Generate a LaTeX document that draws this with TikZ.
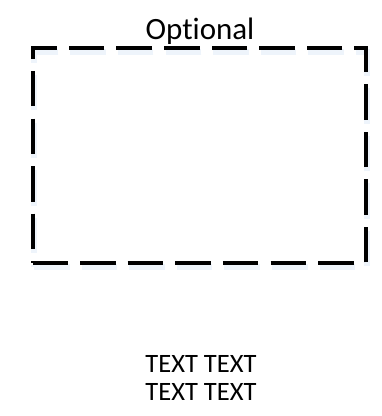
\documentclass[tikz,border=0pt]{standalone}
\usepackage{fontspec}
\setmainfont{Carlito}[Ligatures={NoCommon,NoContextual}]
\definecolor{glow}{RGB}{238,244,251}
\tikzset{
  frameline/.style={line width=4pt, dash pattern=on 35.5pt off 12.1pt},
  frameglow/.style={line width=6pt, dash pattern=on 35.5pt off 12.1pt, draw=glow},
  lbl/.style={anchor=base, inner sep=0pt, text=black}
}
\begin{document}
\begin{tikzpicture}[x=1pt,y=1pt]
\useasboundingbox (0,0) rectangle (382,-416);
\fill[white] (0,0) rectangle (382,-416);
% soft glow below the dashed frame
\draw[frameglow] ([shift={(1.5,-4)}]32.5,-262.5) -- ([shift={(1.5,-4)}]365.5,-262.5) -- ([shift={(1.5,-4)}]365.5,-47.5) -- ([shift={(1.5,-4)}]32.5,-47.5) -- cycle;
\coordinate (bl) at (32.5,-262.5);
\coordinate (br) at (365.5,-262.5);
\coordinate (tr) at (365.5,-47.5);
\coordinate (tl) at (32.5,-47.5);
\draw[frameline] (bl) -- (br) -- (tr) -- (tl) -- cycle;
\node[lbl, font=\fontsize{31}{37}\selectfont] (opt) at (200,-39.5) {Optional};
\node[lbl, font=\fontsize{26.5}{31}\selectfont] (t1) at (201,-372) {TEXT TEXT};
\node[lbl, font=\fontsize{26.5}{31}\selectfont] (t2) at (201,-400.5) {TEXT TEXT};
\end{tikzpicture}
\end{document}
